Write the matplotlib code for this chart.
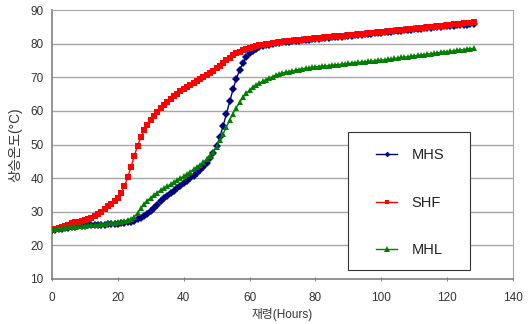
"""
Temperature rise of three mixes over curing time (MHS / SHF / MHL).
"""

import numpy as np
import matplotlib.pyplot as plt
from matplotlib.patches import Rectangle

plt.rcParams['font.family'] = ['Liberation Sans', 'Noto Sans CJK KR', 'DejaVu Sans']

# Curing time (hours), one reading per hour
hours = list(range(0, 129))

# Temperature rise (deg C)
mhs = [
    24.5, 24.7, 24.9, 25.0, 25.2, 25.3, 25.5, 25.6, 25.7, 25.8,
    25.9, 26.0, 26.0, 26.1, 26.1, 26.2, 26.2, 26.3, 26.3, 26.4,
    26.4, 26.5, 26.6, 26.8, 27.0, 27.3, 27.7, 28.2, 28.8, 29.4,
    30.2, 31.1, 32.1, 33.1, 34.0, 34.8, 35.6, 36.3, 37.0, 37.7,
    38.4, 39.1, 39.9, 40.7, 41.5, 42.4, 43.4, 44.6, 46.0, 47.6,
    49.5, 52.3, 55.6, 59.2, 62.9, 66.5, 69.6, 72.2, 74.3, 75.9,
    77.1, 77.9, 78.5, 78.9, 79.2, 79.5, 79.7, 79.9, 80.1, 80.3,
    80.4, 80.5, 80.6, 80.7, 80.8, 80.9, 81.0, 81.1, 81.2, 81.3,
    81.4, 81.5, 81.6, 81.7, 81.8, 81.9, 82.0, 82.1, 82.1, 82.2,
    82.3, 82.4, 82.5, 82.6, 82.7, 82.8, 82.9, 83.0, 83.1, 83.2,
    83.3, 83.4, 83.5, 83.6, 83.7, 83.8, 83.9, 84.0, 84.1, 84.2,
    84.3, 84.4, 84.5, 84.6, 84.7, 84.8, 84.9, 85.0, 85.1, 85.2,
    85.3, 85.4, 85.4, 85.5, 85.5, 85.6, 85.6, 85.7, 85.7,
]

shf = [
    24.5, 24.9, 25.3, 25.6, 25.9, 26.2, 26.5, 26.8, 27.0, 27.2,
    27.5, 27.8, 28.2, 28.7, 29.3, 30.0, 30.8, 31.6, 32.4, 33.2,
    34.2, 35.6, 37.6, 40.2, 43.3, 46.6, 49.6, 52.1, 54.2, 55.9,
    57.3, 58.6, 59.7, 60.8, 61.8, 62.7, 63.5, 64.3, 65.1, 65.8,
    66.5, 67.1, 67.7, 68.3, 69.0, 69.5, 70.0, 70.6, 71.2, 71.9,
    72.7, 73.5, 74.3, 75.1, 75.8, 76.5, 77.1, 77.6, 78.0, 78.4,
    78.7, 79.0, 79.3, 79.5, 79.7, 79.9, 80.0, 80.2, 80.3, 80.5,
    80.6, 80.7, 80.8, 80.9, 81.0, 81.1, 81.2, 81.3, 81.4, 81.5,
    81.6, 81.7, 81.8, 81.9, 82.0, 82.1, 82.2, 82.3, 82.3, 82.4,
    82.5, 82.6, 82.7, 82.8, 82.9, 83.0, 83.1, 83.2, 83.3, 83.4,
    83.5, 83.6, 83.7, 83.8, 83.9, 84.0, 84.1, 84.2, 84.3, 84.4,
    84.5, 84.6, 84.7, 84.8, 84.9, 85.0, 85.1, 85.2, 85.3, 85.4,
    85.5, 85.6, 85.7, 85.8, 85.9, 86.0, 86.1, 86.2, 86.3,
]

mhl = [
    24.5, 24.8, 25.0, 25.2, 25.3, 25.4, 25.5, 25.6, 25.7, 25.8,
    25.9, 26.0, 26.0, 26.1, 26.2, 26.3, 26.4, 26.5, 26.6, 26.7,
    26.8, 27.0, 27.2, 27.5, 27.9, 28.5, 29.6, 31.0, 32.3, 33.3,
    34.2, 35.0, 35.7, 36.4, 37.0, 37.6, 38.2, 38.8, 39.4, 40.0,
    40.6, 41.2, 41.9, 42.6, 43.3, 44.0, 44.8, 45.7, 46.7, 47.9,
    49.4, 51.2, 53.2, 55.3, 57.3, 59.2, 61.0, 62.6, 64.0, 65.2,
    66.2, 67.0, 67.7, 68.3, 68.8, 69.3, 69.8, 70.2, 70.6, 71.0,
    71.3, 71.5, 71.7, 71.9, 72.1, 72.3, 72.5, 72.7, 72.8, 73.0,
    73.1, 73.2, 73.3, 73.4, 73.5, 73.6, 73.7, 73.8, 73.9, 74.0,
    74.1, 74.2, 74.3, 74.4, 74.5, 74.6, 74.7, 74.8, 74.9, 75.0,
    75.1, 75.2, 75.4, 75.5, 75.6, 75.7, 75.9, 76.0, 76.1, 76.2,
    76.4, 76.5, 76.6, 76.7, 76.9, 77.0, 77.1, 77.2, 77.4, 77.5,
    77.6, 77.7, 77.9, 78.0, 78.1, 78.2, 78.4, 78.5, 78.6,
]

x_ticks = [0, 20, 40, 60, 80, 100, 120, 140]
y_ticks = [10, 20, 30, 40, 50, 60, 70, 80, 90]

series = [
    ('MHS', mhs, '#000080', 'D', 3.6),
    ('SHF', shf, '#ff0000', 's', 4.1),
    ('MHL', mhl, '#008000', '^', 5.0),
]

fig = plt.figure(figsize=(5.30, 3.24), dpi=100)
ax = fig.add_axes([0.098, 0.139, 0.870, 0.830])

# horizontal gridlines only
for y in y_ticks[1:-1]:
    ax.axhline(y, color='#a6a6a6', linewidth=1.0, zorder=0)

for name, vals, color, marker, ms in series:
    ax.plot(hours, vals, color=color, linewidth=1.0, marker=marker,
            markersize=ms, markeredgewidth=0, label=name, zorder=3)

ax.set_xlim(0, 140)
ax.set_ylim(10, 90)
ax.set_xticks(x_ticks)
ax.set_yticks(y_ticks)
ax.tick_params(axis='both', labelsize=8.5, labelcolor='#333333',
               length=3, width=0.8, color='#888888', direction='inout')
ax.tick_params(axis='x', pad=8)
ax.tick_params(axis='y', length=0, pad=6)

for side in ['top', 'right']:
    ax.spines[side].set_color('#a6a6a6')
for side in ['left', 'bottom']:
    ax.spines[side].set_color('#808080')
    ax.spines[side].set_linewidth(1.2)

ax.set_ylabel('상승온도(°C)', fontsize=9.8, color='#333333', labelpad=6)
ax.set_xlabel('재령(Hours)', fontsize=8.5, color='#333333', labelpad=3)

# legend box is drawn separately so the entries can sit centred in a wide frame
box = Rectangle((0.642, 0.034), 0.265, 0.512, transform=ax.transAxes,
                facecolor='white', edgecolor='#333333', linewidth=0.8,
                zorder=4)
ax.add_patch(box)

leg = ax.legend(loc='center', bbox_to_anchor=(0.777, 0.283),
                fontsize=10.5, frameon=False, labelspacing=2.3,
                borderpad=0, handlelength=1.4, handletextpad=1.0,
                markerscale=0.8, borderaxespad=0)
leg.set_zorder(5)
for t in leg.get_texts():
    t.set_color('#222222')

fig.savefig('out.png', dpi=100)
